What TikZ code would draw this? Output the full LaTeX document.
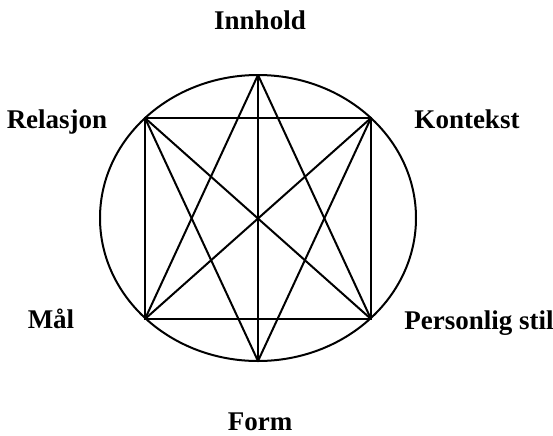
\documentclass[tikz,border=0pt]{standalone}
\usepackage{fontspec}
\setmainfont{Liberation Serif}
\usetikzlibrary{positioning}

\begin{document}
\begin{tikzpicture}[x=0.5pt,y=-0.5pt,line width=1pt]
\tikzset{lab/.style={anchor=base,font=\fontsize{13.5}{16}\selectfont\bfseries}}
\useasboundingbox (0,0) rectangle (553,435);

% Outer ellipse, centre (258,218) in pixel units.
\coordinate (mid) at (258,218);
\draw (mid) ellipse [x radius=158, y radius=143];

% Square corners and the two apexes, all on the ellipse.
\coordinate (tl) at (145,118);
\coordinate (tr) at (371,118);
\coordinate (bl) at (145,319);
\coordinate (br) at (371,319);
\coordinate (top) at (258,75);
\coordinate (bot) at (258,361);

\draw (tl)--(tr)--(br)--(bl)--cycle;
\draw (tl)--(br);
\draw (tr)--(bl);
\draw (top)--(bot);

% Upward triangle and downward triangle.
\draw (top)--(bl);
\draw (top)--(br);
\draw (bot)--(tl);
\draw (bot)--(tr);

% Labels round the figure.
\node[lab] (innhold) at (260,29) {Innhold};
\node[lab] (form) at (260,430) {Form};
\node[lab] (relasjon) at (57,128) {Relasjon};
\node[lab] (kontekst) at (467,128) {Kontekst};
\node[lab] (maal) at (51,328) {Mål};
\node[lab] (stil) at (479,329) {Personlig stil};
\end{tikzpicture}
\end{document}
